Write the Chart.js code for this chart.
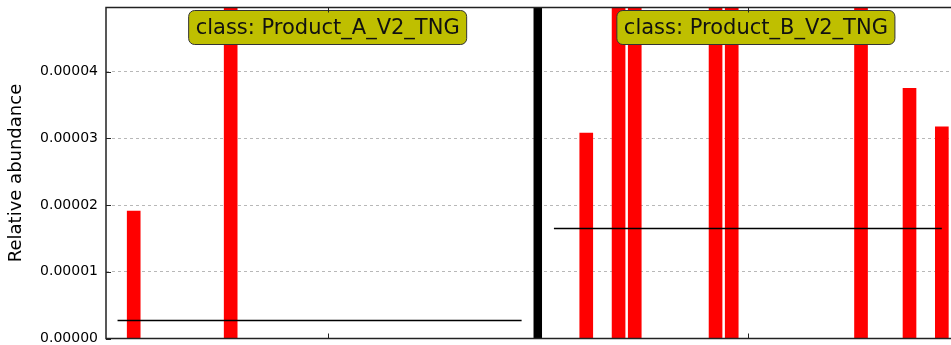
<!DOCTYPE html>
<html><head><meta charset="utf-8">
<script src="https://cdn.jsdelivr.net/npm/chart.js@4/dist/chart.umd.min.js"></script>
<style>
html,body{margin:0;padding:0;overflow:hidden;background:#fff;width:951px;height:345px}
#wrap{width:980px;height:345px;position:relative}
</style></head>
<body><div id="wrap"><canvas id="c" width="980" height="345"></canvas></div>
<script>
// ---- data ----
const classNames = ["class: Product_A_V2_TNG", "class: Product_B_V2_TNG"];
const sampleIndexA = [1, 7];
const valuesA = [0.0000191, 0.0000512];
const sampleIndexB = [29, 31, 32, 37, 38, 46, 49, 51];
const valuesB = [0.0000308, 0.000058, 0.000071, 0.000062, 0.000055, 0.000064, 0.0000375, 0.0000317];
const classMeans = [0.0000027, 0.0000165];
const classFirstSample = [0, 27];
const classLastSample = [25, 51];
const separatorSample = 26;
const classTickSample = [13, 39];
const yTickValues = [0, 0.00001, 0.00002, 0.00003, 0.00004];
const yMax = 0.0000496;
const xMin = -0.714, xMax = 52;

// ---- build ----
const barPoints = sampleIndexA.map((x, i) => ({x, y: valuesA[i]}))
  .concat(sampleIndexB.map((x, i) => ({x, y: valuesB[i]})));

const meanSets = classMeans.map((m, i) => ({
  type: 'line',
  data: [{x: classFirstSample[i], y: m}, {x: classLastSample[i], y: m}],
  borderColor: '#000', borderWidth: 1.5, pointRadius: 0, order: 0
}));

const frameTicks = {
  id: 'frameTicks',
  afterDatasetsDraw(chart) {
    const {ctx, chartArea: a, scales: {x, y}} = chart;
    ctx.save();
    // class label boxes
    ctx.font = '21px "DejaVu Sans"';
    const shift = [0, 8];
    classNames.forEach((t, i) => {
      const cx = x.getPixelForValue(classTickSample[i]) + shift[i];
      const w = ctx.measureText(t).width + 14;
      const h = 34, top = 10.5;
      ctx.beginPath();
      ctx.roundRect(cx - w / 2, top, w, h, 6);
      ctx.fillStyle = '#bfbf00';
      ctx.fill();
      ctx.lineWidth = 1;
      ctx.strokeStyle = '#333';
      ctx.stroke();
      ctx.fillStyle = '#111';
      ctx.textAlign = 'center';
      ctx.textBaseline = 'middle';
      ctx.fillText(t, cx, top + h / 2 + 1);
    });
    // frame
    ctx.strokeStyle = '#222';
    ctx.lineWidth = 1.5;
    ctx.strokeRect(a.left, a.top, a.right - a.left, a.bottom - a.top);
    // inward ticks
    ctx.lineWidth = 1;
    ctx.beginPath();
    yTickValues.forEach(v => {
      const py = Math.round(y.getPixelForValue(v)) + 0.5;
      ctx.moveTo(a.left, py); ctx.lineTo(a.left + 5, py);
    });
    classTickSample.forEach(v => {
      const px = Math.round(x.getPixelForValue(v)) + 0.5;
      ctx.moveTo(px, a.bottom); ctx.lineTo(px, a.bottom - 5);
      ctx.moveTo(px, a.top); ctx.lineTo(px, a.top + 5);
    });
    ctx.stroke();
    ctx.restore();
  }
};

new Chart(document.getElementById('c'), {
  data: {
    datasets: [
      {type: 'bar', data: barPoints, backgroundColor: '#ff0000', barThickness: 13, order: 2},
      ...meanSets,
      {type: 'line', data: [{x: separatorSample, y: 0}, {x: separatorSample, y: yMax}],
       borderColor: '#000', borderWidth: 8.5, pointRadius: 0, order: 1}
    ]
  },
  options: {
    responsive: false,
    animation: false,
    layout: {padding: {left: 0, top: 7.5, right: 22, bottom: 6.5}},
    plugins: {legend: {display: false}, tooltip: {enabled: false}},
    scales: {
      x: {type: 'linear', min: xMin, max: xMax, display: false, offset: false},
      y: {
        min: 0, max: yMax,
        afterBuildTicks: s => { s.ticks = yTickValues.map(v => ({value: v})); },
        afterFit: s => { s.width = 106; s.paddingTop = 0; s.paddingBottom = 0; },
        ticks: {
          color: '#000', padding: 8,
          font: {family: '"DejaVu Sans"', size: 14},
          callback: v => Number(v).toFixed(5)
        },
        grid: {color: '#b8b8b8', lineWidth: 1, drawTicks: false},
        border: {display: false, dash: [3, 3]},
        title: {display: true, text: 'Relative abundance', color: '#000',
                font: {family: '"DejaVu Sans"', size: 18}, padding: {top: 6, bottom: 0}}
      }
    }
  },
  plugins: [frameTicks]
});
</script>
</body></html>
